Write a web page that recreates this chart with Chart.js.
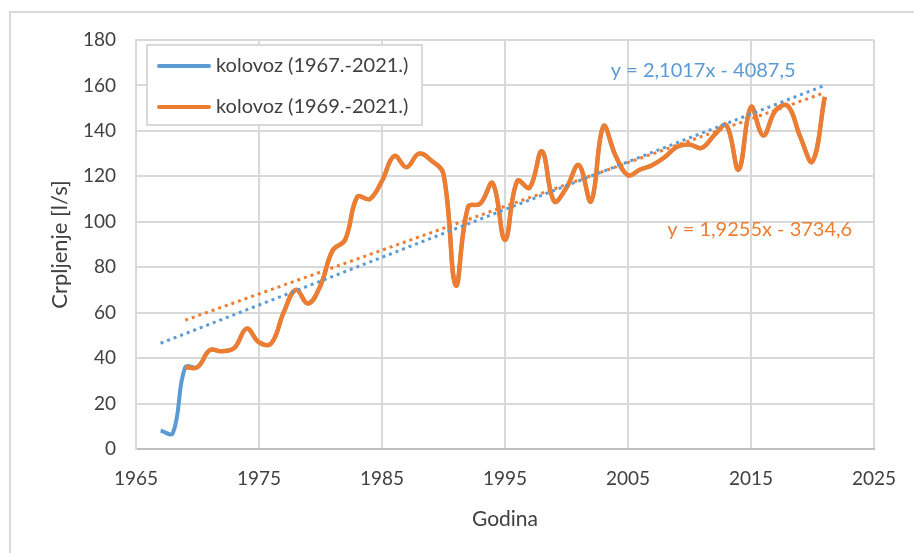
<!DOCTYPE html>
<html>
<head>
<meta charset="utf-8">
<script src="https://cdn.jsdelivr.net/npm/chart.js@4.4.0/dist/chart.umd.min.js"></script>
<style>
  html, body { margin: 0; padding: 0; background: #fff; }
  #wrap { width: 914px; height: 553px; }
</style>
</head>
<body>
<div id="wrap"><canvas id="myChart" width="914" height="553"></canvas></div>
<script>
// godine i crpljenje u kolovozu [l/s]
const godine = [];
for (let g = 1967; g <= 2021; g++) godine.push(g);

const kolovoz6769 = [8, 7];
const kolovoz6921 = [
  36, 36, 43.5, 43, 44.5, 53, 47, 46.5, 60, 70,
  64, 72, 87.5, 92, 111, 110, 118, 129, 124, 130,
  127, 121, 72, 106.5, 108, 117, 92, 118, 115, 131,
  109, 115, 125, 109, 142, 129, 120.5, 123, 125, 128.5,
  133, 134, 132.5, 138, 142.5, 123, 150.5, 138, 149, 151,
  137.5, 126.5, 155
];
const kolovoz6721 = kolovoz6769.concat(kolovoz6921);

// linearni trendovi (koeficijenti iz Excela)
const trendPlavi = [2.1017, -4087.5];
const trendNarancasti = [1.9255, -3734.6];

const xTicks = [1965, 1975, 1985, 1995, 2005, 2015, 2025];
const yTicks = [0, 20, 40, 60, 80, 100, 120, 140, 160, 180];

const PLAVA = '#5b9bd5';
const NARANCASTA = '#ed7d31';
const TEKST = '#404040';
const FONT = 'Lato';

function tocke(godineNiz, vrijednosti) {
  return vrijednosti.map((v, i) => ({ x: godineNiz[i], y: v }));
}
function trend(k, od, doGod) {
  return [od, doGod].map(x => ({ x: x, y: k[0] * x + k[1] }));
}
function jednadzba(k) {
  const f = n => String(n).replace('.', ',');
  return 'y = ' + f(k[0]) + 'x - ' + f(-k[1]);
}

// okvir oko cijelog grafikona
const okvir = {
  id: 'okvir',
  beforeDraw(chart) {
    const c = chart.ctx;
    c.save();
    c.fillStyle = '#fff';
    c.fillRect(0, 0, chart.width, chart.height);
    c.strokeStyle = '#d9d9d9';
    c.lineWidth = 2;
    c.strokeRect(10, 12, chart.width + 20, chart.height + 20);
    c.restore();
  }
};

// legenda unutar područja crtanja + jednadžbe trendova
const legenda = {
  id: 'legenda',
  afterDraw(chart) {
    const c = chart.ctx;
    const xs = chart.scales.x, ys = chart.scales.y;
    c.save();

    c.font = '20px ' + FONT;
    c.textBaseline = 'middle';
    c.fillStyle = PLAVA;
    c.fillText(jednadzba(trendPlavi), xs.getPixelForValue(2003.6), ys.getPixelForValue(166.5));
    c.fillStyle = NARANCASTA;
    c.fillText(jednadzba(trendNarancasti), xs.getPixelForValue(2008.2), ys.getPixelForValue(96.5));

    c.fillStyle = '#fff';
    c.fillRect(147, 45, 275, 80);
    c.strokeStyle = '#d9d9d9';
    c.lineWidth = 2;
    c.strokeRect(147, 45, 275, 80);

    chart.data.datasets.slice(0, 2).forEach((ds, i) => {
      const y = 66 + i * 41;
      c.strokeStyle = ds.borderColor;
      c.lineWidth = 4;
      c.lineCap = 'round';
      c.beginPath();
      c.moveTo(159, y);
      c.lineTo(209, y);
      c.stroke();
      c.fillStyle = TEKST;
      c.fillText(ds.label, 216, y);
    });
    c.restore();
  }
};

const ctx = document.getElementById('myChart').getContext('2d');
const myChart = new Chart(ctx, {
  type: 'line',
  data: {
    datasets: [{
      label: 'kolovoz (1967.-2021.)',
      data: tocke(godine, kolovoz6721),
      borderColor: PLAVA,
      borderWidth: 4,
      pointRadius: 0,
      tension: 0.4,
      order: 3
    }, {
      label: 'kolovoz (1969.-2021.)',
      data: tocke(godine.slice(2), kolovoz6921),
      borderColor: NARANCASTA,
      borderWidth: 4.5,
      pointRadius: 0,
      tension: 0.4,
      order: 2
    }, {
      label: 'trend 1967.-2021.',
      data: trend(trendPlavi, 1967, 2021),
      borderColor: PLAVA,
      borderWidth: 3,
      borderDash: [3, 4],
      pointRadius: 0,
      order: 1
    }, {
      label: 'trend 1969.-2021.',
      data: trend(trendNarancasti, 1969, 2021),
      borderColor: NARANCASTA,
      borderWidth: 3,
      borderDash: [3, 4],
      pointRadius: 0,
      order: 0
    }]
  },
  options: {
    responsive: false,
    animation: false,
    layout: { padding: { top: 40, right: 39, left: 0, bottom: 0 } },
    plugins: {
      legend: { display: false },
      tooltip: { enabled: false }
    },
    scales: {
      x: {
        type: 'linear',
        min: xTicks[0],
        max: xTicks[xTicks.length - 1],
        afterBuildTicks: s => { s.ticks = xTicks.map(v => ({ value: v })); },
        afterFit: s => { s.height = 104; },
        grid: { color: '#d9d9d9', lineWidth: 2, drawTicks: false },
        border: { color: '#bfbfbf', width: 2 },
        ticks: {
          color: TEKST, padding: 18, maxRotation: 0,
          font: { family: FONT, size: 19 },
          callback: v => String(v)
        },
        title: {
          display: true, text: 'Godina', color: TEKST,
          font: { family: FONT, size: 21 },
          padding: { top: 0, bottom: 21 }
        }
      },
      y: {
        min: yTicks[0],
        max: yTicks[yTicks.length - 1],
        afterBuildTicks: s => { s.ticks = yTicks.map(v => ({ value: v })); },
        afterFit: s => { s.width = 136; },
        grid: { color: '#d9d9d9', lineWidth: 2, drawTicks: false },
        border: { color: '#d9d9d9', width: 2 },
        ticks: {
          color: TEKST, padding: 20,
          font: { family: FONT, size: 19 }
        },
        title: {
          display: true, text: 'Crpljenje [l/s]', color: TEKST,
          font: { family: FONT, size: 22 },
          padding: { top: 47, bottom: 0 }
        }
      }
    }
  },
  plugins: [okvir, legenda]
});
</script>
</body>
</html>
